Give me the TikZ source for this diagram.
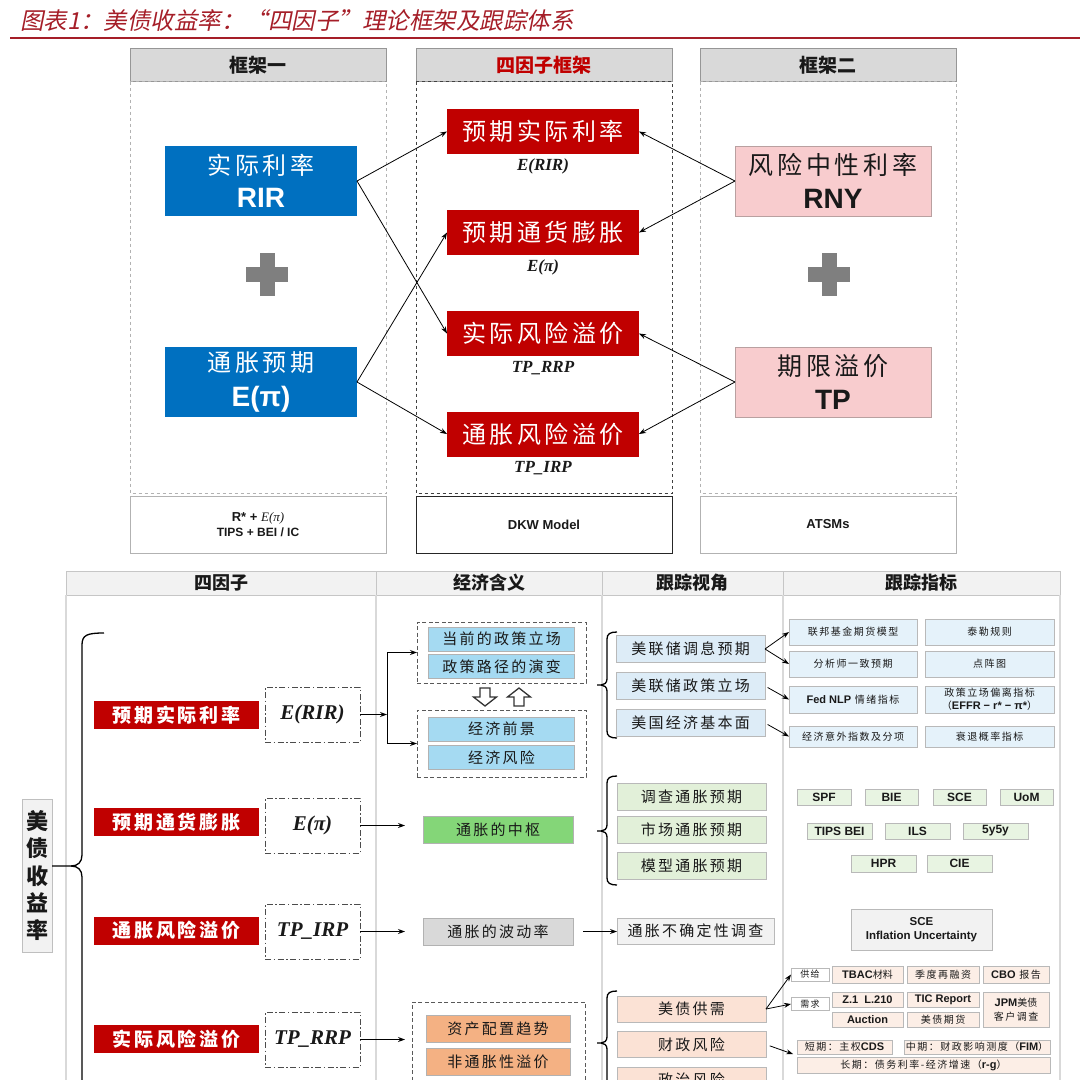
\documentclass[tikz,border=0pt]{standalone}
\usepackage{fontspec}
\setmainfont{Liberation Sans}
\newfontfamily\cjk{Noto Sans CJK SC}
\newfontfamily\cjks[LetterSpace=15]{Noto Sans CJK SC}
\newfontfamily\cjktitle[FakeSlant=0.2]{Noto Sans CJK SC}
\newfontfamily\mathser{Liberation Serif}
\usetikzlibrary{arrows.meta,positioning,calc}

\definecolor{titlered}{RGB}{165,30,40}
\definecolor{hdrfill}{RGB}{217,217,217}
\definecolor{hdrline}{RGB}{150,150,150}
\definecolor{boxblue}{RGB}{0,112,192}
\definecolor{boxred}{RGB}{192,0,0}
\definecolor{boxpink}{RGB}{248,204,206}
\definecolor{pinkline}{RGB}{185,160,160}
\definecolor{plusgray}{RGB}{127,127,127}
\definecolor{meanblue}{RGB}{165,218,242}
\definecolor{viewblue}{RGB}{221,236,247}
\definecolor{indblue}{RGB}{229,242,250}
\definecolor{meangreen}{RGB}{132,214,120}
\definecolor{viewgreen}{RGB}{226,240,217}
\definecolor{indgreen}{RGB}{232,244,226}
\definecolor{meangray}{RGB}{217,217,217}
\definecolor{lightgray}{RGB}{242,242,242}
\definecolor{meanorange}{RGB}{244,177,131}
\definecolor{vieworange}{RGB}{251,226,213}
\definecolor{indorange}{RGB}{252,238,230}

\newcommand{\fsz}[2]{\fontsize{#1}{#2}\selectfont}
% bold latin words inside the small chinese boxes
\newcommand{\lat}[1]{{\rmfamily\bfseries\fsz{11}{13}#1}}
% left brace of a tracking group: x, top, tip, bottom
\newcommand{\colbrace}[4]{%
  \draw[bracecurve] (#1+10,#2) .. controls (#1+3,#2) and (#1,#2+2) .. (#1,#2+7)
    -- (#1,#3-6) .. controls (#1,#3-2) and (#1-3,#3) .. (#1-6,#3) -- (#1-10,#3);
  \draw[bracecurve] (#1-6,#3) .. controls (#1-3,#3) and (#1,#3+2) .. (#1,#3+6)
    -- (#1,#4-7) .. controls (#1,#4-2) and (#1+3,#4) .. (#1+10,#4);}

\begin{document}
\begin{tikzpicture}[x=1pt, y=-1pt,
    every node/.style={inner sep=0pt, outer sep=0pt, text=black!90},
    hdr/.style={draw=hdrline, fill=hdrfill, minimum width=256pt, minimum height=33pt, font=\cjk\bfseries\fsz{19}{21}},
    foot/.style={draw=gray!60, line width=0.8pt, minimum width=256pt, minimum height=57pt, font=\bfseries\fsz{13}{15}},
    bluebox/.style={fill=boxblue, minimum width=192pt, minimum height=70pt, text=white},
    pinkbox/.style={fill=boxpink, draw=pinkline, minimum width=196pt, minimum height=70pt},
    redbox/.style={fill=boxred, minimum width=192pt, minimum height=45pt, text=white, font=\cjks\fsz{24}{26}},
    mlabel/.style={font=\mathser\bfseries\itshape\fsz{17}{19}},
    link/.style={-{Stealth[length=7pt,width=5pt]}, line width=0.8pt},
    colhead/.style={draw=gray!45, fill=gray!10, minimum height=24pt, font=\cjk\bfseries\fsz{18}{20}},
    colline/.style={gray!30, line width=1.5pt},
    bracecurve/.style={line width=1.3pt},
    facbox/.style={fill=boxred, minimum width=165pt, minimum height=28pt, text=white, font=\cjks\bfseries\fsz{19}{21}},
    symbox/.style={draw=black!70, line width=1pt, dash pattern=on 6pt off 2.5pt on 1.5pt off 2.5pt, minimum width=95pt, minimum height=55pt, font=\mathser\bfseries\itshape\fsz{21}{23}},
    dgroup/.style={draw=black!65, line width=1pt, dash pattern=on 4pt off 2.5pt},
    meanbox/.style={draw=gray!60, line width=0.8pt, minimum width=146pt, minimum height=24pt, font=\cjks\fsz{15}{17}},
    viewbox/.style={draw=gray!55, line width=0.8pt, minimum width=149pt, minimum height=27pt, font=\cjks\fsz{15}{17}},
    indbox/.style={draw=gray!55, line width=0.8pt, minimum width=128pt, minimum height=26pt, font=\cjks\fsz{10}{12}},
    tagbox/.style={draw=gray!55, line width=0.8pt, fill=indgreen, minimum height=16pt, font=\bfseries\fsz{12}{14}},
    hollow/.style={draw=black!80, line width=1.3pt, fill=white},
  ]
  \useasboundingbox (0,0) rectangle (1080,1080);
  \clip (0,0) rectangle (1080,1080);

  % --- Title ---
  \node[anchor=west, text=titlered, font=\cjktitle\fsz{23.5}{26}] (title) at (20,20) {图表1：美债收益率：“四因子”理论框架及跟踪体系};
  \draw[titlered, line width=2.5pt] (10,38) -- (1080,38);

  % --- Three frameworks ---
  \node[hdr] (hA) at (258,65) {框架一};
  \node[hdr, text=boxred] (hB) at (544,65) {四因子框架};
  \node[hdr] (hC) at (828,65) {框架二};
  \draw[gray!60, dashed, line width=0.8pt] (130,81.5) rectangle (386,493);
  \draw[black!75, dashed, line width=0.8pt] (416,81.5) rectangle (672,493);
  \draw[gray!60, dashed, line width=0.8pt] (700,81.5) rectangle (956,493);

  \node[foot] (fA) at (258,524.5) {\shortstack{R* + {\mathser\mdseries\itshape E(π)}\\[1pt]{\fsz{12}{14}TIPS + BEI / IC}}};
  \node[foot, draw=black!85] (fB) at (544,524.5) {DKW Model};
  \node[foot] (fC) at (828,524.5) {ATSMs};

  % --- Framework one ---
  \node[bluebox] (rir) at (261,181) {\shortstack{{\cjks\fsz{24}{26}实际利率}\\[9pt]{\bfseries\fsz{28}{30}RIR}}};
  \node[bluebox] (inf) at (261,382) {\shortstack{{\cjks\fsz{24}{26}通胀预期}\\[9pt]{\bfseries\fsz{28}{30}E(π)}}};
  \fill[plusgray] (246,267) rectangle (288,282);
  \fill[plusgray] (259.5,253) rectangle (274.5,296);

  % --- Framework two ---
  \node[pinkbox] (rny) at (833,181) {\shortstack{{\cjks\fsz{25}{27}风险中性利率}\\[9pt]{\bfseries\fsz{28}{30}RNY}}};
  \node[pinkbox] (tp) at (833,382) {\shortstack{{\cjks\fsz{25}{27}期限溢价}\\[9pt]{\bfseries\fsz{28}{30}TP}}};
  \fill[plusgray] (808,267) rectangle (850,282);
  \fill[plusgray] (821.5,253) rectangle (836.5,296);

  % --- Four factors ---
  \node[redbox] (f1) at (543,131.5) {预期实际利率};
  \node[redbox] (f2) at (543,232.5) {预期通货膨胀};
  \node[redbox] (f3) at (543,333.5) {实际风险溢价};
  \node[redbox] (f4) at (543,434) {通胀风险溢价};
  \node[mlabel, below=5pt of f1] (l1) {E(RIR)};
  \node[mlabel, below=5pt of f2] (l2) {E(π)};
  \node[mlabel, below=5pt of f3] (l3) {TP\_RRP};
  \node[mlabel, below=5pt of f4] (l4) {TP\_IRP};

  \draw[link] (rir.east) -- (f1.west);
  \draw[link] (rir.east) -- (f3.west);
  \draw[link] (inf.east) -- (f2.west);
  \draw[link] (inf.east) -- (f4.west);
  \draw[link] (rny.west) -- (f1.east);
  \draw[link] (rny.west) -- (f2.east);
  \draw[link] (tp.west) -- (f3.east);
  \draw[link] (tp.west) -- (f4.east);

  % --- Tracking table ---
  \node[colhead, minimum width=310pt] (c1) at (221,583) {四因子};
  \node[colhead, minimum width=226pt] (c2) at (489,583) {经济含义};
  \node[colhead, minimum width=181pt] (c3) at (692.5,583) {跟踪视角};
  \node[colhead, minimum width=277pt] (c4) at (921.5,583) {跟踪指标};
  \foreach \x in {66,376,602,783,1060}
    \draw[colline] (\x,595) -- (\x,1080);

  \node[draw=gray!50, fill=lightgray, minimum width=30pt, minimum height=153pt, font=\cjk\bfseries\fsz{22}{24}] (ylab) at (37,875.5) {\shortstack{美\\[3.5pt]债\\[3.5pt]收\\[3.5pt]益\\[3.5pt]率}};
  \draw[bracecurve] (104,633) .. controls (87,633) and (82,635) .. (82,645) -- (82,855) .. controls (82,862) and (78,866) .. (71,866) -- (ylab.east |- 0,866);
  \draw[bracecurve] (71,866) .. controls (78,866) and (82,870) .. (82,877) -- (82,1090);

  % factor rows
  \node[facbox] (q1) at (176.5,715) {预期实际利率};
  \node[facbox] (q2) at (176.5,822) {预期通货膨胀};
  \node[facbox] (q3) at (176.5,930.5) {通胀风险溢价};
  \node[facbox] (q4) at (176.5,1039) {实际风险溢价};
  \node[symbox] (e1) at (312.5,714.5) {E(RIR)};
  \node[symbox] (e2) at (312.5,825.5) {E(π)};
  \node[symbox] (e3) at (312.5,931.5) {TP\_IRP};
  \node[symbox] (e4) at (312.5,1039.5) {TP\_RRP};

  % economic meaning
  \node[dgroup, minimum width=169pt, minimum height=61pt] (g1) at (501.5,652.5) {};
  \node[meanbox, fill=meanblue] (b1) at (501.5,639) {当前的政策立场};
  \node[meanbox, fill=meanblue] (b2) at (501.5,666.5) {政策路径的演变};
  \node[dgroup, minimum width=169pt, minimum height=67pt] (g2) at (501.5,743.5) {};
  \node[meanbox, fill=meanblue] (b3) at (501.5,729) {经济前景};
  \node[meanbox, fill=meanblue] (b4) at (501.5,757.5) {经济风险};
  \draw[hollow] (480,688) -- (490,688) -- (490,697) -- (496.5,697) -- (485,706) -- (473.5,697) -- (480,697) -- cycle;
  \draw[hollow] (514,706) -- (524,706) -- (524,697) -- (530.5,697) -- (519,688) -- (507.5,697) -- (514,697) -- cycle;

  \node[meanbox, fill=meangreen, minimum width=150pt, minimum height=27pt] (grn) at (498,829.5) {通胀的中枢};
  \node[meanbox, fill=meangray, minimum width=150pt, minimum height=27pt] (gry) at (498,931.5) {通胀的波动率};
  \node[dgroup, minimum width=173pt, minimum height=93pt] (g3) at (498.5,1048.5) {};
  \node[meanbox, fill=meanorange, minimum width=144pt, minimum height=27pt] (o1) at (498,1028.5) {资产配置趋势};
  \node[meanbox, fill=meanorange, minimum width=144pt, minimum height=27pt] (o2) at (498,1061.5) {非通胀性溢价};

  \coordinate (jn) at (387,714.5);
  \draw[link, line width=1pt] (e1.east) -- (jn);
  \draw[link, line width=1pt] (jn) |- (g1.west);
  \draw[link, line width=1pt] (jn) |- (g2.west);
  \draw[link, line width=1pt, shorten >=18pt] (e2.east) -- (e2.east -| grn.west);
  \draw[link, line width=1pt, shorten >=18pt] (e3.east) -- (e3.east -| gry.west);
  \draw[link, line width=1pt, shorten >=7pt] (e4.east) -- (e4.east -| g3.west);

  % tracking views
  \colbrace{607}{632}{685}{738}
  \colbrace{607}{776}{831}{885}
  \colbrace{607}{991}{1043}{1100}
  \node[viewbox, fill=viewblue] (s1) at (690.5,649) {美联储调息预期};
  \node[viewbox, fill=viewblue] (s2) at (690.5,686) {美联储政策立场};
  \node[viewbox, fill=viewblue] (s3) at (690.5,723) {美国经济基本面};
  \node[viewbox, fill=viewgreen] (s4) at (691.5,796.5) {调查通胀预期};
  \node[viewbox, fill=viewgreen] (s5) at (691.5,830) {市场通胀预期};
  \node[viewbox, fill=viewgreen] (s6) at (691.5,866) {模型通胀预期};
  \node[viewbox, fill=lightgray, minimum width=157pt, minimum height=26pt] (unc) at (695.5,931) {通胀不确定性调查};
  \node[viewbox, fill=vieworange, minimum height=26pt] (s7) at (691.5,1009) {美债供需};
  \node[viewbox, fill=vieworange, minimum height=26pt] (s8) at (691.5,1044.5) {财政风险};
  \node[viewbox, fill=vieworange, minimum height=26pt] (s9) at (691.5,1080) {政治风险};
  \draw[link, line width=1pt, shorten <=10pt] (gry.east) -- (gry.east -| unc.west);

  % tracking indicators: policy
  \node[indbox, fill=indblue] (k1) at (853,632) {联邦基金期货模型};
  \node[indbox, fill=indblue, minimum width=129pt] (k2) at (989.5,632) {泰勒规则};
  \node[indbox, fill=indblue] (k3) at (853,664) {分析师一致预期};
  \node[indbox, fill=indblue, minimum width=129pt] (k4) at (989.5,664) {点阵图};
  \node[indbox, fill=indblue, minimum height=27pt] (k5) at (853,699.5) {\lat{Fed NLP} 情绪指标};
  \node[indbox, fill=indblue, minimum width=129pt, minimum height=27pt] (k6) at (989.5,699.5) {\shortstack{政策立场偏离指标\\[1pt]{\cjk （}\lat{EFFR − r* − π*}{\cjk ）}}};
  \node[indbox, fill=indblue, minimum height=21pt] (k7) at (853,736.5) {经济意外指数及分项};
  \node[indbox, fill=indblue, minimum width=129pt, minimum height=21pt] (k8) at (989.5,736.5) {衰退概率指标};
  \draw[link] (s1.east) -- (k1.west);
  \draw[link] (s1.east) -- (k3.west);
  \draw[link, shorten <=3pt] (s2.east) -- (k5.west);
  \draw[link, shorten <=3pt] (s3.east) -- (k7.west);

  % tracking indicators: inflation
  \node[tagbox, minimum width=54pt] (spf) at (824,797) {SPF};
  \node[tagbox, minimum width=53pt] (bie) at (891.5,797) {BIE};
  \node[tagbox, minimum width=53pt] (sce) at (959.5,797) {SCE};
  \node[tagbox, minimum width=53pt] (uom) at (1026.5,797) {UoM};
  \node[tagbox, minimum width=65pt] (bei) at (839.5,831) {TIPS BEI};
  \node[tagbox, minimum width=65pt] (ils) at (917.5,831) {ILS};
  \node[tagbox, minimum width=65pt] (fyf) at (995.5,831) {5y5y};
  \node[tagbox, minimum width=65pt, minimum height=17pt] (hpr) at (883.5,863.5) {HPR};
  \node[tagbox, minimum width=65pt, minimum height=17pt] (cie) at (959.5,863.5) {CIE};
  \node[tagbox, fill=lightgray, minimum width=141pt, minimum height=41pt, font=\bfseries\fsz{11.5}{13}] (sciu) at (921.5,929.5) {\shortstack{SCE\\[2pt]Inflation Uncertainty}};

  % tracking indicators: supply, demand, fiscal
  \node[indbox, fill=white, minimum width=38pt, minimum height=13pt, font=\cjks\fsz{9}{10}] (sup) at (810,974.5) {供给};
  \node[indbox, fill=white, minimum width=38pt, minimum height=13pt, font=\cjks\fsz{9}{10}] (dem) at (810,1004) {需求};
  \node[indbox, fill=indorange, minimum width=71pt, minimum height=17pt] (t1) at (867.5,974.5) {\lat{TBAC}{\cjk 材料}};
  \node[indbox, fill=indorange, minimum width=72pt, minimum height=17pt] (t2) at (943,974.5) {季度再融资};
  \node[indbox, fill=indorange, minimum width=66pt, minimum height=17pt] (t3) at (1016,974.5) {\lat{CBO} 报告};
  \node[indbox, fill=indorange, minimum width=71pt, minimum height=15pt, font=\bfseries\fsz{11}{13}] (t4) at (867.5,999.5) {Z.1\ \ L.210};
  \node[indbox, fill=indorange, minimum width=72pt, minimum height=15pt, font=\bfseries\fsz{11}{13}] (t5) at (943,999.5) {TIC Report};
  \node[indbox, fill=indorange, minimum width=71pt, minimum height=15pt, font=\bfseries\fsz{11}{13}] (t6) at (867.5,1019.5) {Auction};
  \node[indbox, fill=indorange, minimum width=72pt, minimum height=15pt] (t7) at (943,1019.5) {美债期货};
  \node[indbox, fill=indorange, minimum width=66pt, minimum height=35pt] (t8) at (1016,1009.5) {\shortstack{\lat{JPM}{\cjk 美债}\\[2pt]客户调查}};
  \node[indbox, fill=indorange, minimum width=95pt, minimum height=14pt] (t9) at (844.5,1047) {短期：主权\lat{CDS}};
  \node[indbox, fill=indorange, minimum width=146pt, minimum height=14pt] (t10) at (977,1047) {中期：财政影响测度（\lat{FIM}）};
  \node[indbox, fill=indorange, minimum width=253pt, minimum height=16pt] (t11) at (923.5,1065) {长期：债务利率-经济增速（\lat{r-g}）};
  \coordinate (fis) at ($(t9.south west)!0.5!(t11.north west)$);
  \coordinate (pol) at (795,1093);
  \draw[link] (s7.east) -- (sup.west);
  \draw[link] (s7.east) -- (dem.west);
  \draw[link, shorten <=4pt, shorten >=4pt] (s8.east) -- (fis);
  \draw[link, shorten <=4pt] (s9.east) -- (pol);
\end{tikzpicture}
\end{document}
